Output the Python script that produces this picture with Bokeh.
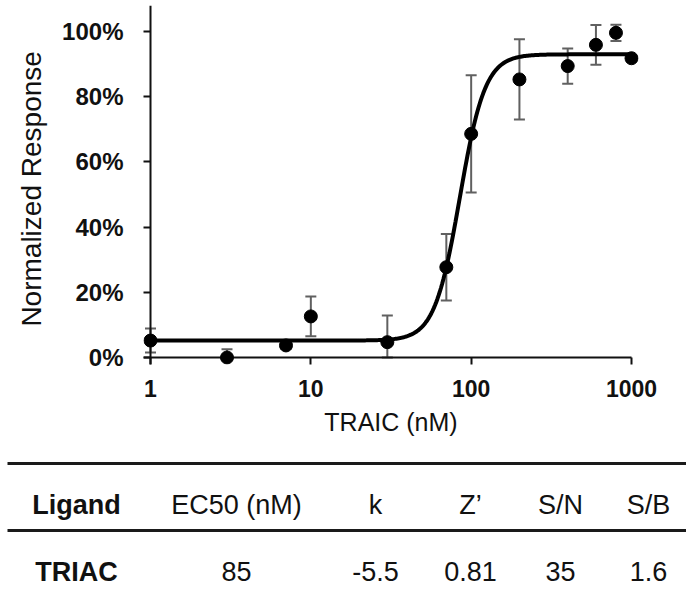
import numpy as np
from bokeh.plotting import figure
from bokeh.models import (Range1d, FixedTicker, NumeralTickFormatter, Whisker,
                          TeeHead, ColumnDataSource)
from bokeh.core.properties import value
from bokeh.embed import file_html
from bokeh.resources import INLINE

# ---------------- data ----------------
conc_nM = [1, 3, 7, 10, 30, 70, 100, 200, 400, 600, 800, 1000]
response_pct = [5.2, 0.0, 3.7, 12.6, 4.7, 27.7, 68.6, 85.3, 89.4, 95.9, 99.6, 91.8]
error_pct = [3.7, 2.5, 1.0, 6.1, 8.2, 10.2, 18.0, 12.3, 5.4, 6.1, 2.5, 1.0]

fit_bottom_pct = 5.2
fit_top_pct = 93.0

x_ticks = [1, 10, 100, 1000]
y_ticks_pct = [0, 20, 40, 60, 80, 100]

table_headers = ["Ligand", "EC50 (nM)", "k", "Z\u2019", "S/N", "S/B"]
table_ligand = ["TRIAC"]
table_ec50 = [85]
table_k = [-5.5]
table_z = [0.81]
table_sn = [35]
table_sb = [1.6]

# ---------------- style / layout ----------------
FONT = "Liberation Sans"
W = 686
H_PLOT = 445
H_TABLE = 596 - H_PLOT
PAD_L, PAD_R, PAD_T, PAD_B = 143, 48, 5, H_PLOT - 364
TICK = 7
ERR_COLOR = "#606060"
INK = "#111111"
TABLE_FS = "27px"

frame_w = W - PAD_L - PAD_R
frame_h = H_PLOT - PAD_T - PAD_B
x_min, x_max = x_ticks[0], x_ticks[-1]
px_per_decade = (frame_w - 2 * TICK) / np.log10(x_max / x_min)
x_start = x_min / 10 ** (TICK / px_per_decade)
x_end = x_max * 10 ** (TICK / px_per_decade)
px_per_unit = 326.0
y_start = -TICK / px_per_unit
y_end = y_start + frame_h / px_per_unit

p = figure(width=W, height=H_PLOT, x_axis_type="log",
           x_range=Range1d(x_start, x_end), y_range=Range1d(y_start, y_end),
           output_backend="svg", toolbar_location=None,
           min_border_left=PAD_L, min_border_right=PAD_R,
           min_border_top=PAD_T, min_border_bottom=PAD_B)
p.outline_line_color = None
p.grid.visible = False
p.background_fill_color = "white"
p.border_fill_color = "white"

for ax in (p.xaxis[0], p.yaxis[0]):
    ax.axis_line_color = None
    ax.major_tick_in = TICK
    ax.major_tick_out = 0
    ax.major_tick_line_width = 2
    ax.major_tick_line_color = INK
    ax.minor_tick_line_color = None
    ax.major_label_text_font = FONT
    ax.major_label_text_font_style = "bold"
    ax.major_label_text_color = INK
    ax.axis_label_text_font = FONT
    ax.axis_label_text_font_style = "normal"
    ax.axis_label_text_color = INK

p.xaxis.ticker = FixedTicker(ticks=x_ticks, minor_ticks=[])
p.xaxis.formatter = NumeralTickFormatter(format="0")
p.xaxis.major_label_text_font_size = "23px"
p.xaxis.major_label_standoff = 15
p.xaxis.axis_label = "TRAIC (nM)"
p.xaxis.axis_label_text_font_size = "25px"
p.xaxis.axis_label_standoff = 8

p.yaxis.ticker = FixedTicker(ticks=[v / 100 for v in y_ticks_pct], minor_ticks=[])
p.yaxis.formatter = NumeralTickFormatter(format="0%")
p.yaxis.major_label_text_font_size = "24px"
p.yaxis.major_label_standoff = 20
p.yaxis.axis_label = "Normalized  Response"
p.yaxis.axis_label_text_font_size = "28px"
p.yaxis.axis_label_standoff = 12

# axis lines crossing at x=1, y=0
p.segment(x0=[x_start], y0=[0], x1=[x_max], y1=[0], line_color=INK, line_width=2)
p.segment(x0=[x_min], y0=[y_start], x1=[x_min], y1=[y_end], line_color=INK, line_width=2)

resp = np.array(response_pct) / 100
err = np.array(error_pct) / 100
src = ColumnDataSource(dict(x=conc_nM, y=resp,
                            upper=resp + err,
                            lower=np.maximum(resp - err, 0)))

wh = Whisker(source=src, base="x", upper="upper", lower="lower",
             line_color=ERR_COLOR, line_width=2,
             upper_head=TeeHead(size=11, line_color=ERR_COLOR, line_width=2),
             lower_head=TeeHead(size=11, line_color=ERR_COLOR, line_width=2))
p.add_layout(wh)

# fitted curve from the table's EC50 and k
ec50 = table_ec50[0]
k = table_k[0]
xf = np.logspace(np.log10(x_min), np.log10(x_max), 400)
yf = (fit_bottom_pct + (fit_top_pct - fit_bottom_pct) / (1 + (xf / ec50) ** k)) / 100
p.line(xf, yf, line_color="black", line_width=4)

p.scatter("x", "y", source=src, size=13, fill_color="black", line_color="black")

# ---------------- table (separate root, own full-width frame) ----------------
t = figure(width=W, height=H_TABLE, x_range=Range1d(0, W), y_range=Range1d(H_TABLE, 0),
           output_backend="svg", toolbar_location=None,
           x_axis_location=None, y_axis_location=None, min_border=0)
t.outline_line_color = None
t.grid.visible = False

col_x = [76, 236, 375, 470, 560, 648]
rule_y = [18, 85]
head_y = 59
row_y = 126
t.segment(x0=[7, 7], y0=rule_y, x1=[W, W], y1=rule_y, line_color="#1a1a1a", line_width=3)

t.text(x=col_x[:1], y=[head_y], text=table_headers[:1], text_font=value(FONT),
       text_font_style="bold", text_font_size=TABLE_FS, text_align="center",
       text_baseline="middle", text_color=INK)
t.text(x=col_x[1:], y=[head_y] * 5, text=table_headers[1:], text_font=value(FONT),
       text_font_size=TABLE_FS, text_align="center", text_baseline="middle", text_color=INK)

row_vals = [str(table_ec50[0]), str(table_k[0]), str(table_z[0]),
            str(table_sn[0]), str(table_sb[0])]
t.text(x=col_x[:1], y=[row_y], text=table_ligand, text_font=value(FONT),
       text_font_style="bold", text_font_size=TABLE_FS, text_align="center",
       text_baseline="middle", text_color=INK)
t.text(x=col_x[1:], y=[row_y] * 5, text=row_vals, text_font=value(FONT),
       text_font_size=TABLE_FS, text_align="center", text_baseline="middle", text_color=INK)

open("out.html", "w").write(file_html([p, t], INLINE))
